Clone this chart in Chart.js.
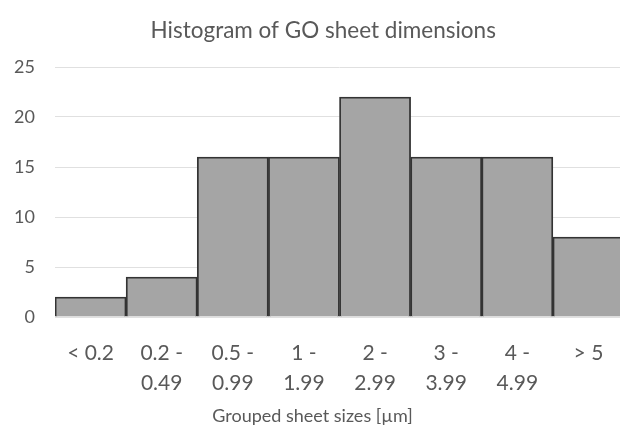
<!DOCTYPE html>
<html>
<head>
<meta charset="utf-8">
<script src="https://cdn.jsdelivr.net/npm/chart.js@4"></script>
<style>
html,body{margin:0;padding:0;background:#fff;overflow:hidden;width:620px;height:433px;}
#wrap{width:630px;height:433px;}
</style>
</head>
<body>
<div id="wrap"><canvas id="c" width="630" height="433"></canvas></div>
<script>
const categories = [["< 0.2"], ["0.2 -", "0.49"], ["0.5 -", "0.99"], ["1 -", "1.99"], ["2 -", "2.99"], ["3 -", "3.99"], ["4 -", "4.99"], ["> 5"]];
const counts = [2, 4, 16, 16, 22, 16, 16, 8];
const yTicks = [0, 5, 10, 15, 20, 25];
const titleText = "Histogram of GO sheet dimensions";
const xTitle = "Grouped sheet sizes [µm]";

const FONT = "Lato, 'Open Sans', sans-serif";
const TXT = "#595959";

new Chart(document.getElementById('c'), {
  type: 'bar',
  data: {
    labels: categories,
    datasets: [{
      data: counts,
      backgroundColor: '#a5a5a5',
      borderColor: '#333333',
      borderWidth: 1.8,
      categoryPercentage: 1.0,
      barPercentage: 1.0
    }]
  },
  options: {
    responsive: false,
    animation: false,
    layout: { padding: { left: 0, right: 6, top: 0, bottom: 6 } },
    plugins: {
      legend: { display: false },
      tooltip: { enabled: false },
      title: {
        display: true,
        text: "\u2002\u2002" + titleText,
        color: TXT,
        font: { family: FONT, size: 22.5, weight: 'normal' },
        padding: { top: 17, bottom: 23 }
      }
    },
    scales: {
      x: {
        grid: { display: false, drawTicks: false },
        border: { display: false },
        ticks: {
          color: TXT,
          font: { family: FONT, size: 21, lineHeight: 1.43 },
          padding: 21,
          maxRotation: 0,
          autoSkip: false
        },
        title: {
          display: true,
          text: xTitle + "\u2002\u2002\u2002\u2002\u2002\u2002",
          color: TXT,
          font: { family: FONT, size: 18 },
          padding: { top: 0, bottom: 0 }
        },
        afterFit: function(s) { s.height = 110; }
      },
      y: {
        min: 0,
        max: 25,
        afterBuildTicks: function(s) { s.ticks = yTicks.map(v => ({ value: v })); },
        grid: { color: '#e0e0e0', lineWidth: 1, drawTicks: false },
        border: { display: false },
        ticks: {
          color: TXT,
          font: { family: FONT, size: 18 },
          padding: 20
        },
        afterFit: function(s) { s.width = 55; }
      }
    }
  }
});
</script>
</body>
</html>
